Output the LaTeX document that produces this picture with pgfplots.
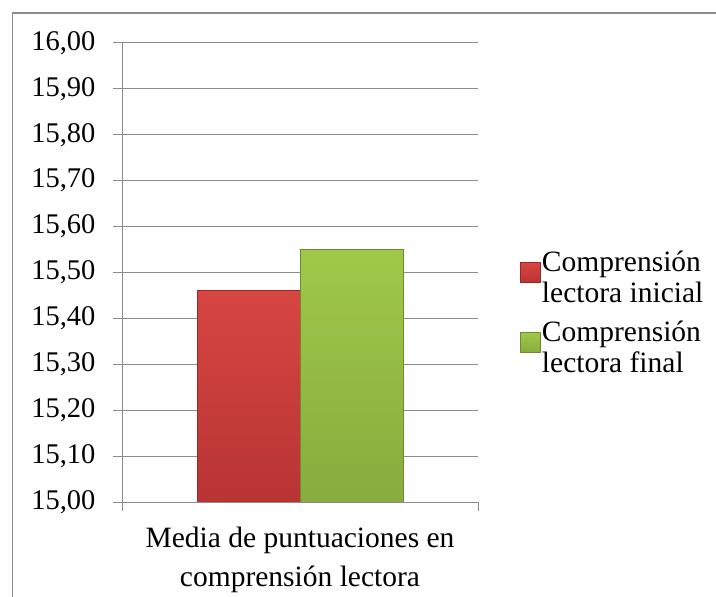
\documentclass[border=0pt]{standalone}
\usepackage{fontspec}
\setmainfont{Liberation Serif}
\usepackage{pgfplots}
\pgfplotsset{compat=1.18}
\definecolor{gridgray}{RGB}{140,140,140}
\definecolor{barred}{RGB}{198,62,60}
\definecolor{barredt}{RGB}{214,70,66}
\definecolor{barredb}{RGB}{184,52,52}
\definecolor{barredd}{RGB}{150,40,40}
\definecolor{bargreen}{RGB}{148,186,68}
\definecolor{bargreent}{RGB}{160,200,72}
\definecolor{bargreenb}{RGB}{136,172,62}
\definecolor{bargreend}{RGB}{108,140,46}
\begin{document}
\fontsize{28bp}{33bp}\selectfont
\begin{tikzpicture}
\useasboundingbox (0bp,0bp) rectangle (716bp,597bp);
\draw[gridgray, line width=1.5bp] (12.5bp,0bp) -- (12.5bp,584bp) -- (716bp,584bp);
\begin{axis}[
  at={(122bp,95bp)}, anchor=south west,
  scale only axis, width=356bp, height=459bp,
  xmin=0, xmax=1, ymin=15, ymax=16,
  xtick={0,1}, xticklabels={},
  ytick={15,15.1,15.2,15.3,15.4,15.5,15.6,15.7,15.8,15.9,16},
  /pgf/number format/.cd, fixed, fixed zerofill, precision=2, use comma, assume math mode=true,
  /pgfplots/.cd,
  yticklabel style={font=\fontsize{28.5bp}{33bp}\selectfont, xshift=-8bp},
  tick align=outside, major tick length=9bp,
  ymajorgrids, grid style={gridgray, line width=1bp},
  axis x line*=bottom, axis y line*=left,
  axis line style={gridgray, line width=1bp, -},
  tick style={gridgray, line width=1bp},
  clip mode=individual,
  legend style={draw=none, fill=none, at={(1.109,0.554)}, anchor=north west,
    font=\fontsize{29.5bp}{31bp}\selectfont,
    nodes={align=left, inner sep=1bp}, row sep=12bp},
  legend cell align=left,
]
\addplot[ybar, bar width=103bp, bar shift=-51.5bp, top color=barredt, bottom color=barredb, draw=barredd, line width=1bp,
  legend image code/.code={\fill[barred, draw=barredd] (0bp,-4bp) rectangle (20bp,16bp);}]
  coordinates {(0.5,15.46)};
\addlegendentry{Comprensión\\lectora inicial}
\addplot[ybar, bar width=103bp, bar shift=51.5bp, top color=bargreent, bottom color=bargreenb, draw=bargreend, line width=1bp,
  legend image code/.code={\fill[bargreen, draw=bargreend] (0bp,-4bp) rectangle (20bp,16bp);}]
  coordinates {(0.5,15.55)};
\addlegendentry{Comprensión\\lectora final}
\node[align=center, anchor=north, font=\fontsize{29.5bp}{39bp}\selectfont] at (axis cs:0.5,15) [yshift=-15bp]
  {Media de puntuaciones en\\comprensión lectora};
\end{axis}
\end{tikzpicture}
\end{document}
